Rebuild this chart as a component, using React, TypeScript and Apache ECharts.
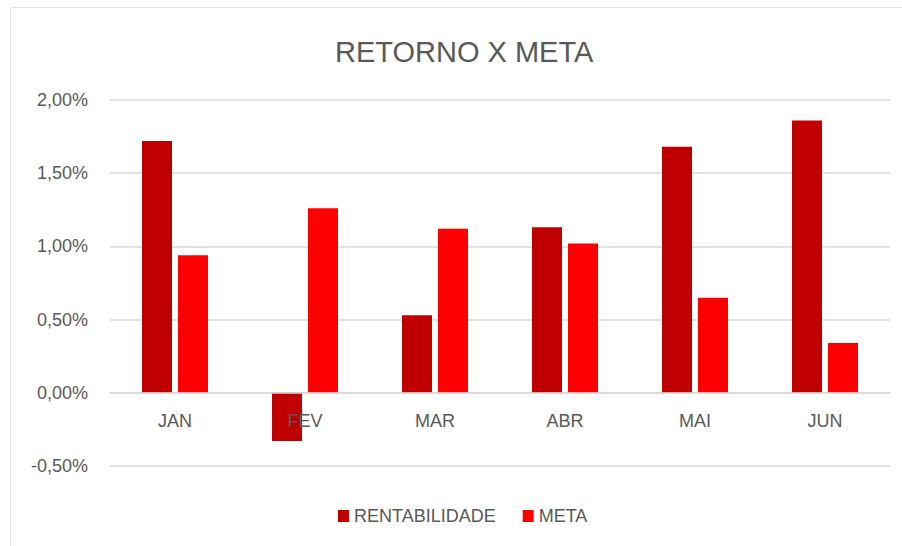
import React, { useEffect, useRef } from "react";
import * as echarts from "echarts";

const categories = ["JAN", "FEV", "MAR", "ABR", "MAI", "JUN"];
const rentabilidade = [1.72, -0.33, 0.53, 1.13, 1.68, 1.86];
const meta = [0.94, 1.26, 1.12, 1.02, 0.65, 0.34];
const seriesNames = ["RENTABILIDADE", "META"];
const title = "RETORNO X META";

const FONT = "'Liberation Sans', Arial, sans-serif";
const TEXT = "#595959";
const GRID = "#d9d9d9";

const GRID_TOP = 100;
const GRID_BOTTOM = 80;
const CHART_H = 546;
const Y_MIN = -0.5;
const Y_MAX = 2;

export default function App() {
  const ref = useRef<HTMLDivElement>(null);
  useEffect(() => {
    if (!ref.current) return;
    const chart = echarts.init(ref.current, null, { renderer: "svg" });
    const plotH = CHART_H - GRID_TOP - GRID_BOTTOM;
    const zeroOffset = -(plotH * (0 - Y_MIN)) / (Y_MAX - Y_MIN);
    chart.setOption({
      animation: false,
      backgroundColor: "#ffffff",
      title: {
        text: title,
        left: 330,
        top: 32,
        textStyle: { fontFamily: FONT, fontSize: 29, fontWeight: "normal", color: TEXT },
      },
      legend: {
        data: seriesNames,
        left: 333,
        top: 502,
        icon: "rect",
        itemWidth: 11,
        itemHeight: 12,
        itemGap: 27,
        textStyle: { fontFamily: FONT, fontSize: 18, color: TEXT },
      },
      grid: { left: 110, right: 12, top: GRID_TOP, bottom: GRID_BOTTOM, containLabel: false },
      xAxis: {
        type: "category",
        data: categories,
        z: 5,
        offset: zeroOffset,
        axisLine: { onZero: false, lineStyle: { color: GRID, width: 1.5 } },
        axisTick: { show: false },
        axisLabel: { fontFamily: FONT, fontSize: 18, color: TEXT, margin: 19 },
        splitLine: { show: false },
      },
      yAxis: {
        type: "value",
        min: Y_MIN,
        max: Y_MAX,
        interval: 0.5,
        axisLine: { show: false },
        axisTick: { show: false },
        axisLabel: {
          fontFamily: FONT,
          fontSize: 18,
          color: TEXT,
          margin: 22,
          formatter: (v: number) => v.toFixed(2).replace(".", ",") + "%",
        },
        splitLine: { lineStyle: { color: GRID, width: 1.5 } },
      },
      series: [
        {
          name: seriesNames[0],
          type: "bar",
          data: rentabilidade,
          barWidth: 30,
          barGap: "20%",
          itemStyle: { color: "#C00000" },
        },
        {
          name: seriesNames[1],
          type: "bar",
          data: meta,
          barWidth: 30,
          itemStyle: { color: "#FF0000" },
        },
      ],
      graphic: [
        {
          type: "rect",
          shape: { x: 10.5, y: 7.5, width: 900, height: 560 },
          style: { fill: "none", stroke: "#e3e3e3", lineWidth: 1 },
          silent: true,
        },
      ],
    });
    return () => chart.dispose();
  }, []);
  return <div ref={ref} style={{ width: 902, height: 546, position: "absolute", left: 0, top: 0 }} />;
}
